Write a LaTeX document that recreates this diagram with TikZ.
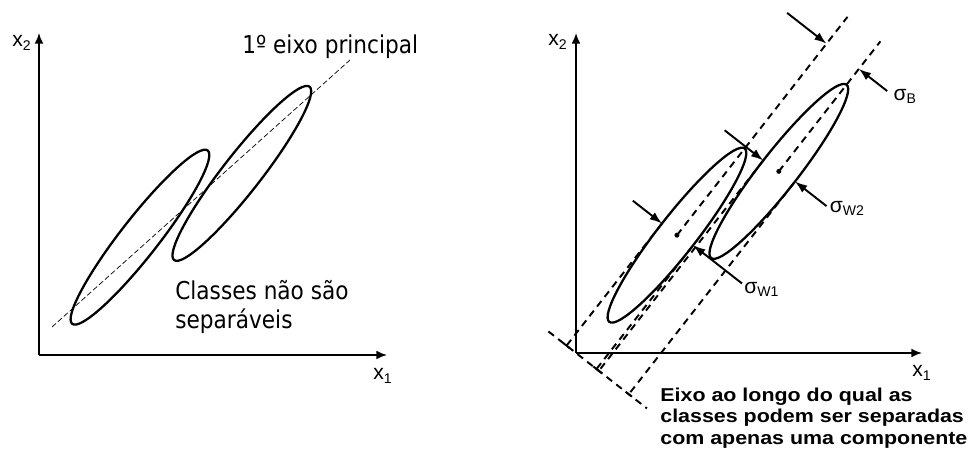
\documentclass[tikz,border=0pt]{standalone}
\usepackage{fontspec}
\setmainfont{Liberation Sans}
\newfontfamily\verdana[FakeStretch=0.88]{DejaVu Sans}
\newfontfamily\largo[FakeStretch=1.15]{Liberation Sans}
\usepackage{tikz}
\usetikzlibrary{arrows.meta,positioning}

\begin{document}
\begin{tikzpicture}[x=0.02cm,y=0.02cm,
    every node/.style={inner sep=0pt,font=\fontsize{12}{14}\selectfont},
    axis/.style={line width=1pt,-{Latex[length=6pt,width=5pt]}},
    classe/.style={line width=1.3pt},
    proj/.style={line width=1.1pt,dash pattern=on 4pt off 3pt},
    seta/.style={line width=1.1pt,-{Latex[length=7pt,width=5pt]}}]
  \useasboundingbox (0,0) rectangle (970,453);
  % painel esquerdo
  \begin{scope}[shift={(39,98)}]
    \draw[axis] (0,0) coordinate (oa) -- (0,322) coordinate (ya);
    \draw[axis] (oa) -- (348,0) coordinate (xa);
    \begin{scope}[rotate=52]
      \draw[classe] (155,-7) ellipse [x radius=110,y radius=19];
      \draw[classe] (268,-48) ellipse [x radius=110,y radius=19];
    \end{scope}
    \draw[thin,dash pattern=on 3pt off 1.5pt] (13,28) coordinate (pa) -- (311,295) coordinate (pb);
  \end{scope}
  \node (x2a) at (22,410) {x\textsubscript{2}};
  \node (x1a) at (383,77) {x\textsubscript{1}};
  \node[anchor=west,font=\verdana\fontsize{14}{17}\selectfont] (eixo) at (242,406) {1º eixo principal};
  \node[anchor=west,align=left,font=\verdana\fontsize{14}{17}\selectfont] (classes) at (175,146)
    {Classes não são\\separáveis};
  % painel direito
  \begin{scope}[shift={(576,100)}]
    \draw[axis] (0,0) coordinate (ob) -- (0,320) coordinate (yb);
    \draw[axis] (ob) -- (346,0) coordinate (xb);
    \begin{scope}[rotate=52]
      \draw[classe] (155,-7) coordinate (m1) ellipse [x radius=110,y radius=19];
      \draw[classe] (268,-48) coordinate (m2) ellipse [x radius=110,y radius=19];
      \fill (m1) circle (2.5);
      \fill (m2) circle (2.5);
      \draw[proj] (m1) -- (432,-7);
      \draw[proj] (m2) -- (433,-48);
      \draw[proj] (0,35) -- (0,-90);
      \foreach \s/\p in {155/12,155/-26,268/-29,268/-67} {
        \draw[proj] (\s,\p) -- (0,\p);
        \draw[line width=1.1pt] (0,{\p+4}) -- (0,{\p-4});
      }
      \draw[seta] (398,43) -- (398,-7);
      \draw[seta] (398,-84) coordinate (tB) -- (398,-48);
      \draw[seta] (267,20) -- (267,-29);
      \draw[seta] (270,-107) coordinate (tW2) -- (270,-67);
      \draw[seta] (155,49) -- (155,12);
      \draw[seta] (157,-88) coordinate (tW1) -- (157,-26);
    \end{scope}
  \end{scope}
  \node (x2b) at (558,411) {x\textsubscript{2}};
  \node (x1b) at (922,80) {x\textsubscript{1}};
  \node[anchor=west] (sB) at ([xshift=0.12cm,yshift=-0.1cm]tB) {σ\textsubscript{B}};
  \node[anchor=west] (sW2) at ([xshift=0.06cm,yshift=-0.04cm]tW2) {σ\textsubscript{W2}};
  \node[anchor=west] (sW1) at ([xshift=0.04cm,yshift=-0.12cm]tW1) {σ\textsubscript{W1}};
  \node[anchor=west,align=left,font=\largo\bfseries\fontsize{10.6}{12.2}\selectfont] (sep) at (660,35)
    {Eixo ao longo do qual as\\classes podem ser separadas\\com apenas uma componente};
\end{tikzpicture}
\end{document}
